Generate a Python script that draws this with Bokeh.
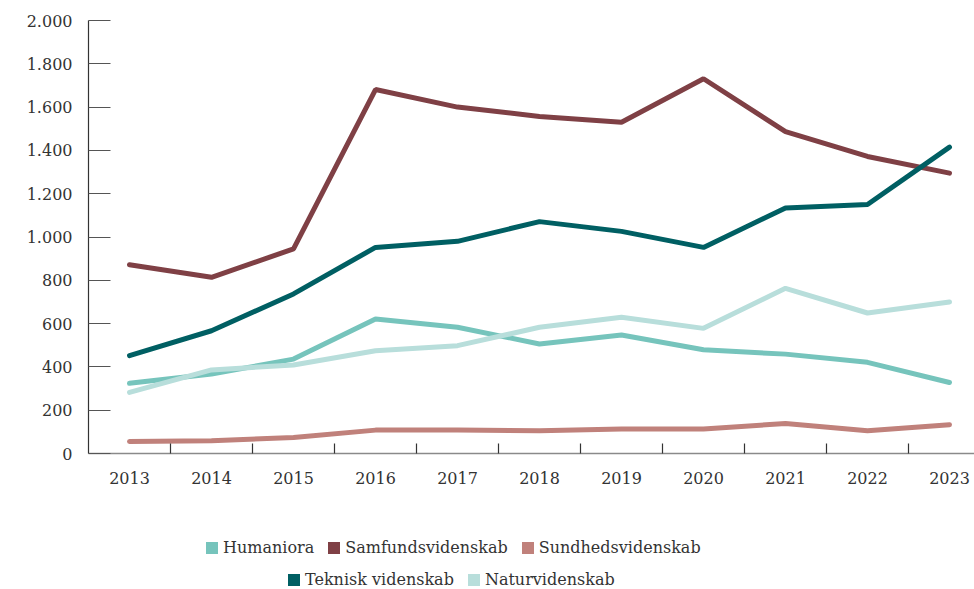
from bokeh.plotting import figure
from bokeh.models import Range1d, FixedTicker, Legend, LegendItem, ColumnDataSource
from bokeh.layouts import column
from bokeh.embed import file_html
from bokeh.resources import INLINE

# ---- data ----
years = [2013, 2014, 2015, 2016, 2017, 2018, 2019, 2020, 2021, 2022, 2023]
humaniora = [324, 367, 436, 621, 583, 506, 547, 479, 459, 421, 328]
samfundsvidenskab = [872, 814, 945, 1681, 1600, 1557, 1530, 1731, 1487, 1372, 1295]
sundhedsvidenskab = [55, 59, 74, 108, 108, 105, 113, 113, 139, 105, 133]
teknisk_videnskab = [452, 567, 737, 952, 980, 1071, 1026, 952, 1134, 1150, 1415]
naturvidenskab = [282, 386, 409, 475, 498, 583, 629, 578, 763, 649, 700]

series_names = ["Humaniora", "Samfundsvidenskab", "Sundhedsvidenskab",
                "Teknisk videnskab", "Naturvidenskab"]
series_values = [humaniora, samfundsvidenskab, sundhedsvidenskab,
                 teknisk_videnskab, naturvidenskab]
series_colors = ["#76c4bc", "#7f4045", "#c0817b", "#005f63", "#b8dedb"]

y_ticks = [0, 200, 400, 600, 800, 1000, 1200, 1400, 1600, 1800, 2000]
y_tick_labels = ["0", "200", "400", "600", "800", "1.000", "1.200",
                 "1.400", "1.600", "1.800", "2.000"]
x_tick_labels = ["2013", "2014", "2015", "2016", "2017", "2018", "2019",
                 "2020", "2021", "2022", "2023"]

FONT = "DejaVu Serif"
TEXT_COLOR = "#333333"

# ---- main chart ----
p = figure(width=974, height=493,
           x_range=Range1d(2012.5, 2023.305), y_range=Range1d(0, 2000),
           output_backend="svg", toolbar_location=None,
           min_border_left=88, min_border_top=20, min_border_right=0,
           min_border_bottom=40)
p.outline_line_color = None
p.xgrid.visible = False
p.ygrid.visible = False
p.background_fill_color = "white"
p.border_fill_color = "white"

for name, vals, col in zip(series_names, series_values, series_colors):
    p.line(years, vals, line_width=5, line_color=col, line_cap="round")

xa = p.xaxis[0]
xa.ticker = FixedTicker(ticks=years, minor_ticks=[y + 0.5 for y in years[:-1]])
xa.major_label_overrides = dict(zip(years, x_tick_labels))
xa.major_tick_in = 0
xa.major_tick_out = 0
xa.minor_tick_in = 10
xa.minor_tick_out = 0
xa.minor_tick_line_color = "#333333"
xa.minor_tick_line_width = 1.2
xa.axis_line_color = "#8a8a8a"
xa.axis_line_width = 1.5
xa.major_label_standoff = 18
xa.major_label_text_font = FONT
xa.major_label_text_font_size = "16px"
xa.major_label_text_color = TEXT_COLOR

ya = p.yaxis[0]
ya.ticker = FixedTicker(ticks=y_ticks)
ya.major_label_overrides = dict(zip(y_ticks, y_tick_labels))
ya.major_tick_in = 22
ya.major_tick_out = 0
ya.major_tick_line_color = "#555555"
ya.major_tick_line_width = 1.2
ya.minor_tick_line_color = None
ya.axis_line_color = "#333333"
ya.axis_line_width = 1.2
ya.major_label_standoff = 16
ya.major_label_text_font = FONT
ya.major_label_text_font_size = "16px"
ya.major_label_text_color = TEXT_COLOR

# ---- legend holder ----
p2 = figure(width=974, height=96, x_range=Range1d(0, 1), y_range=Range1d(0, 1),
            output_backend="svg", toolbar_location=None,
            x_axis_location=None, y_axis_location=None, min_border=0)
p2.outline_line_color = None
p2.grid.visible = False
p2.background_fill_color = "white"
p2.border_fill_color = "white"

# hidden, zero-size swatch renderer used only to draw the legend squares
swatch_src = ColumnDataSource(dict(name=series_names, color=series_colors,
                                   zero=[0] * len(series_names)))
swatch = p2.quad(left="zero", right="zero", top="zero", bottom="zero",
                 fill_color="color", line_color=None, source=swatch_src)
swatch.visible = False

items = [LegendItem(label=name, renderers=[swatch], index=i)
         for i, name in enumerate(series_names)]

def make_legend(its, loc):
    return Legend(items=its, orientation="horizontal", location=loc,
                  margin=0, padding=0, spacing=12,
                  glyph_width=15, glyph_height=15, label_standoff=4,
                  label_text_font=FONT, label_text_font_size="16px",
                  label_text_color=TEXT_COLOR, border_line_color=None,
                  background_fill_alpha=0, click_policy="none")

p2.add_layout(make_legend(items[:3], (116, 32)))
p2.add_layout(make_legend(items[3:], (198, 0)))

layout = column(p, p2)
open("out.html", "w").write(file_html(layout, INLINE))
